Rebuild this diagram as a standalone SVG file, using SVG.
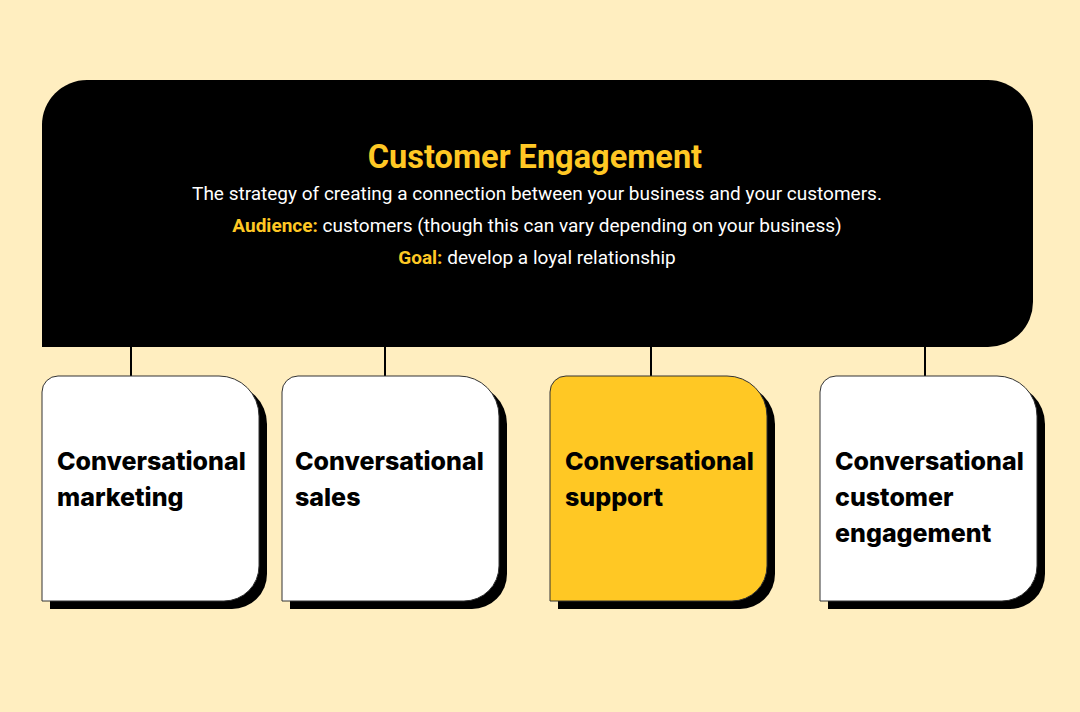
<svg xmlns="http://www.w3.org/2000/svg" width="1080" height="712" viewBox="0 0 1080 712">
  <defs>
    <style>
      .card { stroke: #333333; stroke-width: 1; }
      .shadow { fill: #000000; }
      .label { font-family: Inter, "Liberation Sans", sans-serif; font-weight: 800; font-size: 25px; fill: #000000; }
      .title { font-family: Roboto, "Liberation Sans", sans-serif; font-weight: 700; font-size: 32.5px; fill: #FFC824; }
      .body { font-family: Roboto, "Liberation Sans", sans-serif; font-size: 19px; fill: #FFFFFF; }
      .hl { font-weight: 700; fill: #FFC824; }
      .conn { stroke: #000000; stroke-width: 2; fill: none; }
    </style>
  </defs>
  <rect width="1080" height="712" fill="#FFEEC0"/>

  <g id="connectors">
    <line class="conn" x1="131" y1="345" x2="131" y2="377"/>
    <line class="conn" x1="385" y1="345" x2="385" y2="377"/>
    <line class="conn" x1="651" y1="345" x2="651" y2="377"/>
    <line class="conn" x1="925" y1="345" x2="925" y2="377"/>
  </g>

  <g id="customer-engagement">
    <path d="M42 347 L42 125 A45 45 0 0 1 87 80 L988 80 A45 45 0 0 1 1033 125 L1033 302 A45 45 0 0 1 988 347 Z" fill="#000000"/>
    <text class="title" x="535" y="168" text-anchor="middle">Customer Engagement</text>
    <text class="body" x="537" y="200" text-anchor="middle">The strategy of creating a connection between your business and your customers.</text>
    <text class="body" x="537" y="232" text-anchor="middle"><tspan class="hl">Audience:</tspan> customers (though this can vary depending on your business)</text>
    <text class="body" x="537" y="264" text-anchor="middle"><tspan class="hl">Goal:</tspan> develop a loyal relationship</text>
  </g>

  <g id="conversational-marketing">
    <path class="shadow" d="M50 609 L50 400 A16 16 0 0 1 66 384 L227 384 A40 40 0 0 1 267 424 L267 574 A35 35 0 0 1 232 609 Z"/>
    <path class="card" fill="#FFFFFF" d="M42 601 L42 392 A16 16 0 0 1 58 376 L219 376 A40 40 0 0 1 259 416 L259 566 A35 35 0 0 1 224 601 Z"/>
    <text class="label" x="57" y="470">Conversational</text>
    <text class="label" x="57" y="506">marketing</text>
  </g>

  <g id="conversational-sales">
    <path class="shadow" d="M290 609 L290 400 A16 16 0 0 1 306 384 L467 384 A40 40 0 0 1 507 424 L507 574 A35 35 0 0 1 472 609 Z"/>
    <path class="card" fill="#FFFFFF" d="M282 601 L282 392 A16 16 0 0 1 298 376 L459 376 A40 40 0 0 1 499 416 L499 566 A35 35 0 0 1 464 601 Z"/>
    <text class="label" x="295" y="470">Conversational</text>
    <text class="label" x="295" y="506">sales</text>
  </g>

  <g id="conversational-support">
    <path class="shadow" d="M558 609 L558 400 A16 16 0 0 1 574 384 L735 384 A40 40 0 0 1 775 424 L775 574 A35 35 0 0 1 740 609 Z"/>
    <path class="card" fill="#FFC824" d="M550 601 L550 392 A16 16 0 0 1 566 376 L727 376 A40 40 0 0 1 767 416 L767 566 A35 35 0 0 1 732 601 Z"/>
    <text class="label" x="565" y="470">Conversational</text>
    <text class="label" x="565" y="506">support</text>
  </g>

  <g id="conversational-customer-engagement">
    <path class="shadow" d="M828 609 L828 400 A16 16 0 0 1 844 384 L1005 384 A40 40 0 0 1 1045 424 L1045 574 A35 35 0 0 1 1010 609 Z"/>
    <path class="card" fill="#FFFFFF" d="M820 601 L820 392 A16 16 0 0 1 836 376 L997 376 A40 40 0 0 1 1037 416 L1037 566 A35 35 0 0 1 1002 601 Z"/>
    <text class="label" x="835" y="470">Conversational</text>
    <text class="label" x="835" y="506">customer</text>
    <text class="label" x="835" y="542">engagement</text>
  </g>
</svg>
